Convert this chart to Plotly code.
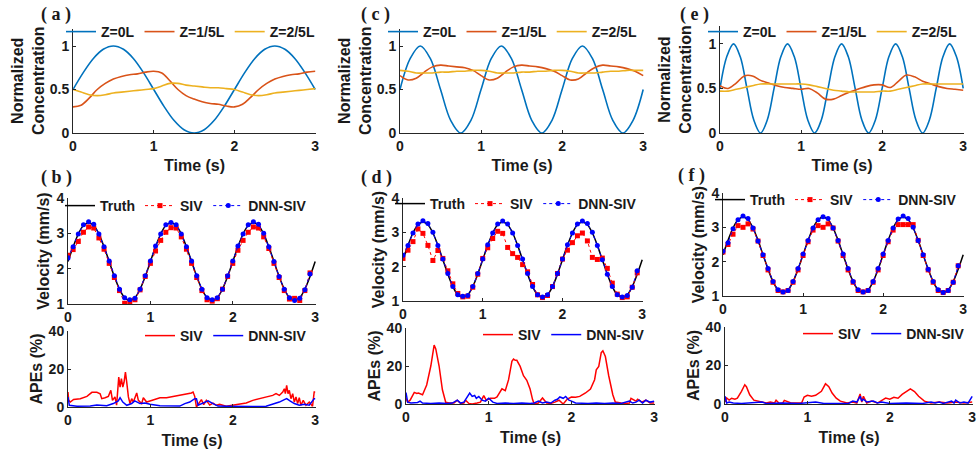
import plotly.graph_objects as go

W, H = 977, 453

# ---------------- data ----------------
TIME_01 = [0.0, 0.1, 0.2, 0.3, 0.4, 0.5, 0.6, 0.7, 0.8, 0.9, 1.0, 1.1, 1.2, 1.3, 1.4, 1.5,
           1.6, 1.7, 1.8, 1.9, 2.0, 2.1, 2.2, 2.3, 2.4, 2.5, 2.6, 2.7, 2.8, 2.9, 3.0]
TIME_EIGHTH = [0.0, 0.125, 0.25, 0.375, 0.5, 0.625, 0.75, 0.875, 1.0, 1.125, 1.25, 1.375, 1.5,
               1.625, 1.75, 1.875, 2.0, 2.125, 2.25, 2.375, 2.5, 2.625, 2.75, 2.875, 3.0]
TIME_TWELFTH = [0.0, 0.083, 0.167, 0.25, 0.333, 0.417, 0.5, 0.583, 0.667, 0.75, 0.833, 0.917,
                1.0, 1.083, 1.167, 1.25, 1.333, 1.417, 1.5, 1.583, 1.667, 1.75, 1.833, 1.917,
                2.0, 2.083, 2.167, 2.25, 2.333, 2.417, 2.5, 2.583, 2.667, 2.75, 2.833, 2.917, 3.0]

# (a) concentration
A_Z0 = [0.5, 0.691, 0.854, 0.962, 1.0, 0.962, 0.854, 0.691, 0.5, 0.309, 0.146, 0.038, 0.0,
        0.038, 0.146, 0.309, 0.5, 0.691, 0.854, 0.962, 1.0, 0.962, 0.854, 0.691, 0.5]
A_Z1 = [0.30, 0.32, 0.40, 0.50, 0.57, 0.62, 0.65, 0.67, 0.68, 0.70, 0.71, 0.69, 0.60, 0.50, 0.43,
        0.39, 0.36, 0.34, 0.33, 0.31, 0.30, 0.33, 0.41, 0.50, 0.57, 0.62, 0.65, 0.67, 0.68, 0.70, 0.71]
A_Z2 = [0.50, 0.47, 0.44, 0.43, 0.44, 0.46, 0.47, 0.48, 0.49, 0.50, 0.51, 0.54, 0.57, 0.57, 0.55,
        0.54, 0.53, 0.52, 0.52, 0.51, 0.50, 0.47, 0.44, 0.43, 0.44, 0.46, 0.47, 0.48, 0.49, 0.50, 0.51]
# (c) concentration
C_Z0 = [0.5, 0.854, 1.0, 0.854, 0.5, 0.146, 0.0, 0.146, 0.5, 0.854, 1.0, 0.854, 0.5, 0.146, 0.0,
        0.146, 0.5, 0.854, 1.0, 0.854, 0.5, 0.146, 0.0, 0.146, 0.5]
C_Z1 = [0.66, 0.61, 0.63, 0.70, 0.76, 0.78, 0.77, 0.76, 0.75, 0.72,
        0.66, 0.61, 0.63, 0.70, 0.76, 0.78, 0.77, 0.76, 0.74, 0.71,
        0.66, 0.61, 0.62, 0.69, 0.75, 0.78, 0.77, 0.76, 0.74, 0.71, 0.66]
C_Z2 = [0.72, 0.71, 0.69, 0.69, 0.69, 0.70, 0.70, 0.71, 0.71, 0.72,
        0.72, 0.71, 0.69, 0.69, 0.69, 0.70, 0.70, 0.71, 0.71, 0.72,
        0.72, 0.71, 0.69, 0.69, 0.69, 0.70, 0.71, 0.71, 0.72, 0.72, 0.72]
# (e) concentration
E_Z0 = [0.5, 0.854, 1.0, 0.854, 0.5, 0.146, 0.0, 0.146, 0.5, 0.854, 1.0, 0.854, 0.5, 0.146, 0.0,
        0.146, 0.5, 0.854, 1.0, 0.854, 0.5, 0.146, 0.0, 0.146, 0.5, 0.854, 1.0, 0.854, 0.5, 0.146,
        0.0, 0.146, 0.5, 0.854, 1.0, 0.854, 0.5]
E_Z1 = [0.53, 0.50, 0.56, 0.64, 0.64, 0.59, 0.56, 0.53, 0.51, 0.50, 0.49, 0.50, 0.45, 0.38, 0.38,
        0.42, 0.46, 0.49, 0.52, 0.54, 0.54, 0.51, 0.58, 0.65, 0.63, 0.58, 0.55, 0.52, 0.50, 0.49, 0.48]
E_Z2 = [0.47, 0.47, 0.49, 0.51, 0.53, 0.55, 0.55, 0.55, 0.55, 0.55, 0.55, 0.54, 0.52, 0.50, 0.48,
        0.47, 0.46, 0.46, 0.46, 0.46, 0.47, 0.47, 0.49, 0.51, 0.53, 0.55, 0.55, 0.55, 0.55, 0.55, 0.55]

# velocity
TIME_V = [0.0, 0.0625, 0.125, 0.1875, 0.25, 0.3125, 0.375, 0.4375, 0.5, 0.5625, 0.625, 0.6875,
          0.75, 0.8125, 0.875, 0.9375, 1.0, 1.0625, 1.125, 1.1875, 1.25, 1.3125, 1.375, 1.4375,
          1.5, 1.5625, 1.625, 1.6875, 1.75, 1.8125, 1.875, 1.9375, 2.0, 2.0625, 2.125, 2.1875,
          2.25, 2.3125, 2.375, 2.4375, 2.5, 2.5625, 2.625, 2.6875, 2.75, 2.8125, 2.875, 2.9375]
TIME_TRUTH = TIME_V + [3.0]
TRUTH = [2.20, 2.62, 2.98, 3.22, 3.30, 3.22, 2.98, 2.62, 2.20, 1.78, 1.42, 1.18, 1.10, 1.18, 1.42, 1.78,
         2.20, 2.62, 2.98, 3.22, 3.30, 3.22, 2.98, 2.62, 2.20, 1.78, 1.42, 1.18, 1.10, 1.18, 1.42, 1.78,
         2.20, 2.62, 2.98, 3.22, 3.30, 3.22, 2.98, 2.62, 2.20, 1.78, 1.42, 1.18, 1.10, 1.18, 1.42, 1.78,
         2.20]
B_SIV = [2.38, 2.54, 2.77, 3.03, 3.18, 3.15, 2.87, 2.55, 2.15, 1.75, 1.38, 1.02, 1.05, 1.12, 1.40, 1.78,
         2.15, 2.50, 2.80, 3.03, 3.16, 3.15, 2.90, 2.55, 2.15, 1.75, 1.38, 1.12, 1.08, 1.15, 1.42, 1.78,
         2.15, 2.52, 2.80, 3.03, 3.18, 3.15, 2.90, 2.57, 2.15, 1.75, 1.38, 1.14, 1.16, 1.10, 1.38, 1.88]
B_DNN = [2.30, 2.62, 2.98, 3.24, 3.33, 3.26, 2.98, 2.62, 2.22, 1.80, 1.42, 1.18, 1.12, 1.16, 1.42, 1.80,
         2.22, 2.64, 2.98, 3.24, 3.31, 3.24, 2.98, 2.62, 2.22, 1.80, 1.42, 1.18, 1.12, 1.18, 1.42, 1.80,
         2.22, 2.64, 2.98, 3.24, 3.33, 3.26, 3.00, 2.62, 2.20, 1.78, 1.42, 1.18, 1.10, 1.16, 1.40, 1.85]
D_SIV = [2.24, 2.48, 2.73, 3.10, 2.97, 2.62, 2.18, 2.47, 2.24, 1.88, 1.50, 1.22, 1.12, 1.14, 1.40, 1.78,
         2.24, 2.55, 2.82, 3.03, 2.97, 2.56, 2.38, 2.27, 2.06, 1.85, 1.48, 1.18, 1.10, 1.16, 1.42, 1.80,
         2.22, 2.48, 2.70, 2.90, 2.98, 2.75, 2.27, 2.21, 2.25, 1.95, 1.52, 1.20, 1.10, 1.12, 1.40, 1.82]
D_DNN = [2.33, 2.62, 2.98, 3.24, 3.34, 3.26, 3.00, 2.62, 2.22, 1.80, 1.42, 1.18, 1.14, 1.16, 1.42, 1.80,
         2.22, 2.64, 2.98, 3.24, 3.33, 3.24, 2.98, 2.62, 2.22, 1.80, 1.42, 1.18, 1.12, 1.18, 1.42, 1.80,
         2.22, 2.64, 2.98, 3.24, 3.33, 3.26, 3.00, 2.62, 2.20, 1.78, 1.42, 1.18, 1.12, 1.16, 1.40, 1.88]
F_SIV = [2.28, 2.50, 2.80, 3.05, 3.00, 3.10, 2.95, 2.60, 2.18, 1.76, 1.40, 1.16, 1.12, 1.16, 1.40, 1.76,
         2.18, 2.58, 2.92, 3.05, 3.00, 3.10, 2.98, 2.60, 2.18, 1.76, 1.40, 1.16, 1.12, 1.16, 1.40, 1.76,
         2.18, 2.58, 2.92, 3.08, 3.08, 3.08, 3.08, 2.62, 2.18, 1.76, 1.40, 1.16, 1.10, 1.16, 1.40, 1.88]
F_DNN = [2.30, 2.55, 2.96, 3.22, 3.33, 3.26, 2.98, 2.60, 2.20, 1.80, 1.42, 1.18, 1.12, 1.16, 1.42, 1.80,
         2.22, 2.62, 2.98, 3.22, 3.31, 3.26, 2.98, 2.62, 2.22, 1.80, 1.42, 1.18, 1.12, 1.16, 1.42, 1.80,
         2.22, 2.62, 2.98, 3.24, 3.33, 3.26, 3.00, 2.62, 2.20, 1.78, 1.42, 1.18, 1.10, 1.16, 1.40, 1.88]

# APEs (%)
B_APE_SIV_T = [0.0, 0.008, 0.028, 0.068, 0.149, 0.23, 0.29, 0.35, 0.39, 0.41, 0.45, 0.49, 0.52, 0.54,
               0.57, 0.59, 0.616, 0.632, 0.648, 0.665, 0.68, 0.697, 0.713, 0.733, 0.753, 0.773, 0.793,
               0.834, 0.854, 0.894, 0.914, 0.954, 0.995, 1.035, 1.116, 1.196, 1.277, 1.357, 1.438,
               1.498, 1.518, 1.538, 1.559, 1.591, 1.619, 1.647, 1.679, 1.72, 1.76, 1.8, 1.84, 1.92,
               2.0, 2.08, 2.163, 2.243, 2.324, 2.404, 2.485, 2.525, 2.565, 2.606, 2.626, 2.638, 2.654,
               2.67, 2.686, 2.706, 2.727, 2.747, 2.767, 2.787, 2.807, 2.827, 2.855, 2.888, 2.928,
               2.968, 2.988, 3.0]
B_APE_SIV = [7.9, 3.5, 2.6, 4.0, 4.4, 5.6, 7.7, 7.7, 7.0, 4.4, 4.9, 5.6, 8.8, 3.5,
             5.3, 1.0, 15.8, 10.5, 15.0, 10.5, 13.0, 18.4, 13.0, 5.3, 1.8, 4.4, 2.6,
             7.4, 3.5, 1.8, 4.9, 2.6, 3.2, 3.9, 4.9, 4.9, 5.6, 6.0, 7.0,
             7.4, 7.9, 5.6, 0.0, 1.8, 3.9, 1.2, 3.5, 1.0, 2.0, 0.9, 1.4, 0.4,
             0.9, 1.2, 2.1, 3.5, 4.4, 4.9, 6.1, 7.0, 6.1, 7.9, 9.6, 7.0, 11.4,
             7.0, 8.8, 4.4, 7.0, 2.6, 5.3, 1.8, 4.9, 0.9, 3.5, 0.9, 2.6,
             0.4, 7.9, 7.9]
B_APE_DNN_T = [0.0, 0.016, 0.109, 0.27, 0.35, 0.47, 0.55, 0.61, 0.632, 0.665, 0.713, 0.773, 0.81,
               0.874, 0.934, 0.995, 1.116, 1.277, 1.357, 1.418, 1.478, 1.538, 1.559, 1.579, 1.639,
               1.7, 1.76, 1.82, 1.92, 2.08, 2.243, 2.404, 2.485, 2.565, 2.626, 2.654, 2.694, 2.747,
               2.807, 2.868, 2.928, 2.988, 3.0]
B_APE_DNN = [5.3, 0.9, 0.4, 0.5, 1.0, 0.7, 1.8, 3.2, 4.9, 2.6, 0.9, 1.8, 3.2,
             1.8, 2.1, 1.4, 0.7, 0.4, 0.5, 1.8, 2.6, 4.4, 4.4, 0.9, 2.1,
             3.2, 1.8, 0.5, 0.4, 0.2, 0.2, 0.4, 1.4, 2.6, 3.9, 4.4, 3.2, 1.8,
             0.9, 1.4, 0.9, 4.4, 4.4]

D_APE_SIV_T = [0.0, 0.02, 0.05, 0.1, 0.13, 0.15, 0.2, 0.25, 0.3, 0.34, 0.36, 0.4, 0.44, 0.48, 0.52,
               0.58, 0.62, 0.66, 0.7, 0.72, 0.76, 0.8, 0.86, 0.9, 0.94, 0.97, 1.02, 1.07, 1.1, 1.12,
               1.16, 1.2, 1.24, 1.28, 1.3, 1.32, 1.34, 1.38, 1.42, 1.46, 1.5, 1.53, 1.55, 1.6, 1.65,
               1.7, 1.75, 1.8, 1.85, 1.9, 1.95, 2.0, 2.05, 2.1, 2.17, 2.23, 2.28, 2.3, 2.33, 2.36,
               2.38, 2.41, 2.45, 2.5, 2.53, 2.6, 2.65, 2.7, 2.72, 2.78, 2.8, 2.85, 2.9, 2.95, 3.0]
D_APE_SIV = [3.0, 1.0, 2.0, 6.1, 5.5, 5.8, 4.9, 10.0, 20.0, 31.0, 29.0, 20.0, 7.5, 0.9, 0.5,
             0.5, 2.0, 0.3, 0.5, 2.0, 0.3, 0.0, 0.5, 1.0, 4.4, 2.0, 3.0, 3.0, 3.7, 5.0,
             8.0, 7.0, 12.8, 22.5, 23.7, 23.0, 23.0, 19.8, 14.9, 12.5, 7.9, 2.3, 0.0, 0.5, 3.2,
             0.5, 0.3, 1.0, 2.0, 0.0, 2.6, 3.7, 3.5, 4.0, 5.8, 7.9, 12.8, 18.0, 19.8, 27.0,
             28.0, 25.0, 15.0, 4.9, 1.0, 0.5, 0.3, 0.5, 3.0, 1.5, 2.5, 1.0, 2.0, 0.5, 0.5]
D_APE_DNN_T = [0.0, 0.02, 0.06, 0.1, 0.14, 0.17, 0.2, 0.3, 0.4, 0.5, 0.56, 0.62, 0.66, 0.7, 0.74,
               0.77, 0.8, 0.83, 0.85, 0.88, 0.92, 0.96, 1.0, 1.05, 1.1, 1.2, 1.3, 1.4, 1.5, 1.55,
               1.6, 1.65, 1.7, 1.75, 1.8, 1.83, 1.86, 1.9, 1.93, 1.97, 2.0, 2.05, 2.2, 2.3, 2.4,
               2.5, 2.6, 2.65, 2.7, 2.74, 2.78, 2.82, 2.86, 2.9, 2.95, 3.0]
D_APE_DNN = [6.0, 1.0, 0.5, 0.5, 0.8, 1.5, 0.5, 0.3, 0.5, 0.3, 0.5, 2.0, 0.5, 1.0, 4.0,
             5.8, 4.0, 4.5, 3.0, 4.0, 2.0, 1.5, 3.0, 1.0, 0.3, 0.5, 0.3, 0.5, 0.3, 0.5,
             1.5, 0.5, 1.0, 0.5, 2.0, 2.5, 3.7, 3.0, 4.0, 2.0, 1.5, 0.5, 0.3, 0.5, 0.3,
             0.5, 0.3, 1.0, 1.5, 0.5, 1.0, 2.0, 0.5, 2.0, 1.0, 1.5]

F_APE_SIV_T = [0.0, 0.02, 0.05, 0.08, 0.12, 0.15, 0.2, 0.24, 0.26, 0.3, 0.35, 0.4, 0.5, 0.55, 0.6,
               0.62, 0.66, 0.7, 0.72, 0.8, 0.93, 0.96, 1.0, 1.05, 1.1, 1.17, 1.22, 1.26, 1.3, 1.35,
               1.4, 1.48, 1.55, 1.6, 1.64, 1.66, 1.68, 1.72, 1.78, 1.85, 1.9, 1.95, 2.0, 2.05, 2.1,
               2.15, 2.2, 2.25, 2.3, 2.35, 2.42, 2.5, 2.6, 2.7, 2.8, 2.9, 3.0]
F_APE_SIV = [1.0, 3.1, 2.0, 3.0, 2.5, 3.0, 6.6, 10.0, 9.0, 4.8, 2.0, 1.5, 0.5, 1.0, 0.5,
             2.0, 0.3, 0.5, 1.9, 0.5, 0.5, 3.6, 4.5, 4.0, 4.5, 6.6, 10.5, 9.0, 5.7, 3.0,
             1.5, 0.5, 1.0, 0.5, 5.2, 1.0, 4.0, 0.5, 1.5, 0.5, 1.9, 3.1, 2.5, 3.5, 3.0,
             5.0, 6.4, 7.8, 6.5, 4.0, 1.5, 0.5, 1.0, 0.5, 1.0, 0.5, 1.0]
F_APE_DNN_T = [0.0, 0.02, 0.05, 0.1, 0.2, 0.35, 0.45, 0.5, 0.7, 0.9, 1.0, 1.1, 1.2, 1.4, 1.5, 1.55,
               1.6, 1.64, 1.66, 1.68, 1.72, 1.8, 1.85, 1.9, 2.0, 2.2, 2.4, 2.5, 2.55, 2.6, 2.65,
               2.75, 2.78, 2.8, 2.85, 2.9, 2.95, 3.0]
F_APE_DNN = [4.0, 0.5, 1.0, 0.5, 0.3, 0.5, 1.0, 0.3, 0.5, 0.3, 0.5, 1.0, 0.3, 0.5, 0.3, 1.5,
             1.0, 4.0, 1.5, 2.5, 1.0, 1.5, 0.5, 1.0, 0.3, 0.5, 0.3, 1.0, 0.5, 1.0, 0.3,
             1.5, 0.5, 2.0, 0.5, 1.0, 0.5, 4.0]

for a, b in [(A_Z0, TIME_EIGHTH), (A_Z1, TIME_01), (A_Z2, TIME_01), (C_Z0, TIME_EIGHTH),
             (C_Z1, TIME_01), (C_Z2, TIME_01), (E_Z0, TIME_TWELFTH), (E_Z1, TIME_01),
             (E_Z2, TIME_01), (TRUTH, TIME_TRUTH), (B_SIV, TIME_V), (B_DNN, TIME_V),
             (D_SIV, TIME_V), (D_DNN, TIME_V), (F_SIV, TIME_V), (F_DNN, TIME_V),
             (B_APE_SIV, B_APE_SIV_T), (B_APE_DNN, B_APE_DNN_T), (D_APE_SIV, D_APE_SIV_T),
             (D_APE_DNN, D_APE_DNN_T), (F_APE_SIV, F_APE_SIV_T), (F_APE_DNN, F_APE_DNN_T)]:
    assert len(a) == len(b), (len(a), len(b))

CONC_LABELS = ["Z=0L", "Z=1/5L", "Z=2/5L"]
PANEL_LABELS = ["( a )", "( b )", "( c )", "( d )", "( e )", "( f )"]

# ---------------- style ----------------
C_BLUE, C_ORANGE, C_YELLOW = "#0072BD", "#D95319", "#EDB120"
FONT = "Liberation Sans"
TXT = "#1a1a1a"
AX = "#262626"

# subplot boxes in pixels (left, top, right, bottom)
BOXES = {
    1: (73, 28.6, 316, 133), 2: (68, 198, 316, 304), 3: (68, 331, 316, 407),
    4: (400, 28.6, 644, 133), 5: (403, 198, 643, 301), 6: (406, 328, 655, 404),
    7: (720, 26, 964, 133), 8: (723, 193, 964, 296), 9: (725, 327, 973, 404),
}
KIND = {1: "c", 2: "v", 3: "e", 4: "c", 5: "v", 6: "e", 7: "c", 8: "v", 9: "e"}

fig = go.Figure()

def ax_id(i):
    return "" if i == 1 else str(i)

def line_tr(x, y, name, color, i, width=1.6, shape="linear", show=True):
    fig.add_trace(go.Scatter(x=x, y=y, mode="lines", name=name,
                             line=dict(color=color, width=width, shape=shape),
                             xaxis="x" + ax_id(i), yaxis="y" + ax_id(i),
                             legend="legend" + ax_id(i), showlegend=show))

conc = [(1, A_Z0, TIME_EIGHTH, A_Z1, A_Z2), (4, C_Z0, TIME_EIGHTH, C_Z1, C_Z2),
        (7, E_Z0, TIME_TWELFTH, E_Z1, E_Z2)]
for i, z0, tz0, z1, z2 in conc:
    line_tr(tz0, z0, CONC_LABELS[0], C_BLUE, i, shape="spline")
    line_tr(TIME_01, z1, CONC_LABELS[1], C_ORANGE, i, shape="spline")
    line_tr(TIME_01, z2, CONC_LABELS[2], C_YELLOW, i, shape="spline")

vel = [(2, B_SIV, B_DNN), (5, D_SIV, D_DNN), (8, F_SIV, F_DNN)]
for i, siv, dnn in vel:
    line_tr(TIME_TRUTH, TRUTH, "Truth", "#000000", i, width=1.5, shape="spline")
    fig.add_trace(go.Scatter(x=TIME_V, y=siv, mode="lines+markers", name="SIV",
                             line=dict(color="#FF0000", width=1, dash="dot"),
                             marker=dict(symbol="square", size=5, color="#FF0000"),
                             xaxis="x" + ax_id(i), yaxis="y" + ax_id(i), legend="legend" + ax_id(i)))
    fig.add_trace(go.Scatter(x=TIME_V, y=dnn, mode="lines+markers", name="DNN-SIV",
                             line=dict(color="#0000FF", width=1, dash="dot"),
                             marker=dict(symbol="circle", size=5, color="#0000FF"),
                             xaxis="x" + ax_id(i), yaxis="y" + ax_id(i), legend="legend" + ax_id(i)))

ape = [(3, B_APE_SIV_T, B_APE_SIV, B_APE_DNN_T, B_APE_DNN),
       (6, D_APE_SIV_T, D_APE_SIV, D_APE_DNN_T, D_APE_DNN),
       (9, F_APE_SIV_T, F_APE_SIV, F_APE_DNN_T, F_APE_DNN)]
for i, ts, vs, td, vd in ape:
    line_tr(ts, vs, "SIV", "#FF0000", i, width=1.5)
    line_tr(td, vd, "DNN-SIV", "#0000FF", i, width=1.5)

layout = dict(width=W, height=H, margin=dict(l=0, r=0, t=0, b=0, autoexpand=False),
              paper_bgcolor="white", plot_bgcolor="rgba(0,0,0,0)",
              font=dict(family=FONT, color=TXT))

tickfont = dict(family=FONT, size=14, color=TXT, weight="bold")
titlefont = dict(family=FONT, size=16, color=TXT, weight="bold")
yspec = {"c": ([0, 1.2], [0, 0.5, 1], ["0", "0.5", "1"], "Normalized<br>Concentration", 1),
         "v": ([1, 4], [1, 2, 3, 4], ["1", "2", "3", "4"], "Velocity (mm/s)", 2),
         "e": ([0, 40], [0, 20, 40], ["0", "20", "40"], "APEs (%)", 2)}
LEG_POS = {1: (320, 32), 2: (312, 206), 3: (312, 336), 4: (642, 32), 5: (642, 204),
           6: (650, 335), 7: (962, 32), 8: (962, 200), 9: (970, 334)}

for i, (l, t, r, b) in BOXES.items():
    k = KIND[i]
    yr, yt, ytl, ytitle, ystand = yspec[k]
    xa = dict(domain=[l / W, r / W], anchor="y" + ax_id(i), range=[0, 3.01],
              tickvals=[0, 1, 2, 3], ticktext=["0", "1", "2", "3"], tickfont=tickfont,
              showline=True, linecolor=AX, linewidth=1, ticks="inside", ticklen=3,
              tickcolor=AX, showgrid=False, zeroline=False, fixedrange=True, automargin=False,
              ticklabeloverflow="allow", layer="above traces")
    if k in ("c", "e"):
        xa["title"] = dict(text="Time (s)", font=titlefont, standoff=7 if k == "c" else 8)
    ya = dict(domain=[1 - b / H, 1 - t / H], anchor="x" + ax_id(i), range=yr,
              tickvals=yt, ticktext=ytl, tickfont=tickfont,
              showline=True, linecolor=AX, linewidth=1, ticks="inside", ticklen=3,
              tickcolor=AX, showgrid=False, zeroline=False, fixedrange=True, automargin=False,
              ticklabeloverflow="allow",
              title=dict(text=ytitle, font=titlefont, standoff=ystand))
    layout["xaxis" + ax_id(i)] = xa
    layout["yaxis" + ax_id(i)] = ya
    lx, ly = LEG_POS[i]
    layout["legend" + ax_id(i)] = dict(x=lx / W, y=1 - ly / H, xanchor="right", yanchor="middle",
                                      orientation="h", bgcolor="rgba(0,0,0,0)", borderwidth=0,
                                      font=dict(family=FONT, size=14, color=TXT, weight="bold"),
                                      itemwidth=30, tracegroupgap=0)

PANEL_POS = [(56, 15), (56, 177), (375, 15), (376, 177), (694, 15), (691, 175)]
layout["annotations"] = [dict(text=s, x=px / W, y=1 - py / H, xref="paper", yref="paper",
                              showarrow=False, xanchor="center", yanchor="middle",
                              font=dict(family="Liberation Serif", size=18, color=TXT, weight="bold"))
                         for s, (px, py) in zip(PANEL_LABELS, PANEL_POS)]

fig.update_layout(**layout)
fig.write_html("out.html", config={"displayModeBar": False, "staticPlot": True},
               post_script="document.body.style.margin='0';document.body.style.padding='0';"
                           "document.documentElement.style.overflow='hidden';")
